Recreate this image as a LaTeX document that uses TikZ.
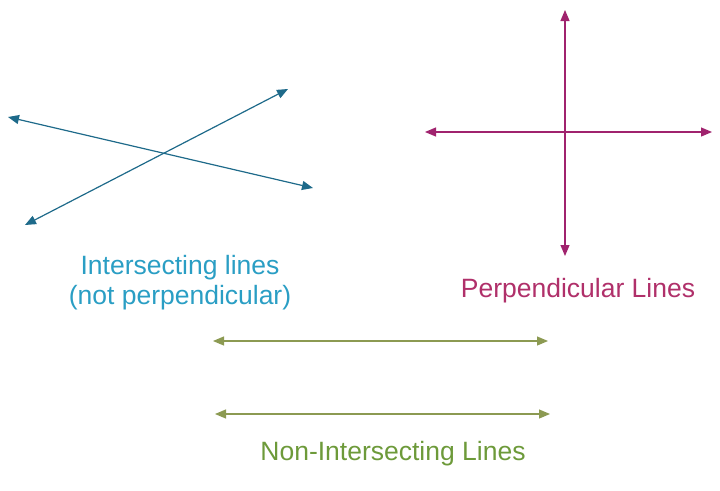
\documentclass[tikz,border=0pt]{standalone}
\usepackage{fontspec}
\setmainfont{Liberation Sans}
\usetikzlibrary{arrows.meta}
\definecolor{bline}{HTML}{1E6A8A}
\definecolor{btext}{HTML}{2A9EC4}
\definecolor{mline}{HTML}{A0236E}
\definecolor{mtext}{HTML}{B0306A}
\definecolor{gline}{HTML}{8C9A52}
\definecolor{gtext}{HTML}{6D9A3A}
\tikzset{
  dline/.style={line width=1.2pt,{Triangle[length=11pt,width=9pt]}-{Triangle[length=11pt,width=9pt]}},
  lbl/.style={font=\fontsize{26.5}{30}\selectfont, align=center, inner sep=0pt}
}
\begin{document}
\begin{tikzpicture}[x=1pt,y=-1pt]
\useasboundingbox (0,0) rectangle (720,490);
% intersecting
\coordinate (a1) at (8,117);
\coordinate (a2) at (313,188);
\coordinate (b1) at (25,225);
\coordinate (b2) at (288,89);
\draw[dline,bline] (a1) -- (a2);
\draw[dline,bline] (b1) -- (b2);
\node[lbl,text=btext] (ilab) at (180,283) {Intersecting lines\\(not perpendicular)};
% perpendicular
\coordinate (v1) at (565,10);
\coordinate (v2) at (565,256);
\coordinate (h1) at (425,132);
\coordinate (h2) at (712,132);
\draw[dline,mline] (v1) -- (v2);
\draw[dline,mline] (h1) -- (h2);
\node[lbl,text=mtext] (plab) at (578,291) {Perpendicular Lines};
% non-intersecting
\coordinate (p1) at (213,341);
\coordinate (p2) at (548,341);
\coordinate (q1) at (215,414);
\coordinate (q2) at (550,414);
\draw[dline,gline] (p1) -- (p2);
\draw[dline,gline] (q1) -- (q2);
\node[lbl,text=gtext] (nlab) at (393,454) {Non-Intersecting Lines};
\end{tikzpicture}
\end{document}
